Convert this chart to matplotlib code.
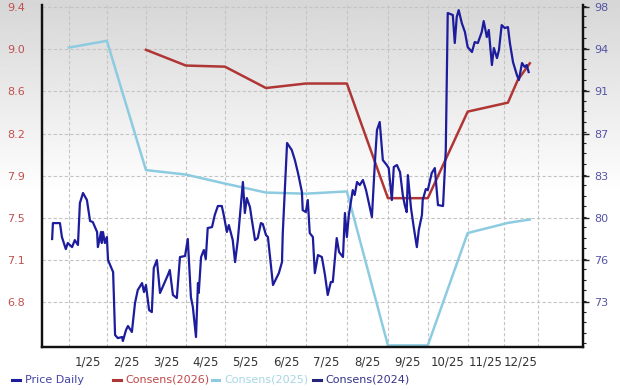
import matplotlib
matplotlib.use("Agg")
import matplotlib.pyplot as plt
import numpy as np
from matplotlib.lines import Line2D
from matplotlib.ticker import MultipleLocator

# x in months since start of Jan 2025
price_x = [-0.43, -0.41, -0.23, -0.18, -0.08, -0.03, 0.08, 0.15, 0.23, 0.28, 0.36, 0.46,
           0.54, 0.61, 0.72, 0.74, 0.82, 0.84, 0.87, 0.92, 0.97, 1.00, 1.13, 1.18,
           1.25, 1.36, 1.38, 1.46, 1.51, 1.61, 1.69, 1.76, 1.87, 1.92, 1.97, 2.05,
           2.12, 2.17, 2.25, 2.33, 2.53, 2.58, 2.66, 2.76, 2.84, 2.97, 3.04, 3.12,
           3.17, 3.25, 3.30, 3.32, 3.38, 3.45, 3.50, 3.55, 3.66, 3.73, 3.81, 3.91,
           3.96, 4.04, 4.09, 4.17, 4.19, 4.25, 4.32, 4.45, 4.50, 4.55, 4.63, 4.68,
           4.76, 4.83, 4.91, 4.96, 5.04, 5.09, 5.22, 5.32, 5.37, 5.45, 5.47, 5.58,
           5.70, 5.78, 5.86, 5.96, 5.98, 6.06, 6.11, 6.16, 6.24, 6.29, 6.37, 6.47,
           6.55, 6.62, 6.70, 6.75, 6.85, 6.91, 7.01, 7.06, 7.11, 7.16, 7.26, 7.31,
           7.37, 7.44, 7.52, 7.60, 7.75, 7.83, 7.88, 7.95, 8.03, 8.13, 8.18, 8.26,
           8.31, 8.39, 8.47, 8.54, 8.59, 8.64, 8.67, 8.75, 8.82, 8.90, 8.95, 9.03,
           9.05, 9.13, 9.18, 9.28, 9.36, 9.44, 9.57, 9.64, 9.69, 9.82, 9.87, 9.92,
           9.97, 10.05, 10.13, 10.20, 10.31, 10.38, 10.46, 10.56, 10.61, 10.69, 10.74, 10.82,
           10.87, 10.95, 11.00, 11.07, 11.15, 11.23, 11.28, 11.36, 11.46, 11.51, 11.59, 11.66,
           11.71, 11.76]
price = [78.19, 79.55, 79.55, 78.36, 77.33, 77.85, 77.50, 78.10, 77.68, 81.26, 82.12, 81.52,
         79.73, 79.64, 78.79, 77.50, 78.79, 77.85, 78.79, 77.85, 78.36, 76.39, 75.37, 69.99,
         69.73, 69.82, 69.48, 70.42, 70.76, 70.25, 72.72, 73.83, 74.43, 73.66, 74.26, 72.12,
         71.95, 75.71, 76.39, 73.58, 75.11, 75.54, 73.41, 73.15, 76.65, 76.74, 78.19, 73.23,
         72.38, 69.82, 74.43, 73.58, 76.65, 77.25, 76.48, 79.13, 79.21, 80.24, 81.01, 81.01,
         80.24, 78.79, 79.38, 78.36, 78.10, 76.22, 78.10, 83.06, 80.41, 81.69, 80.92, 79.81,
         78.10, 78.27, 79.55, 79.47, 78.53, 78.36, 74.26, 74.94, 75.28, 76.22, 78.70, 86.39,
         85.79, 84.93, 83.82, 82.20, 80.66, 80.49, 81.52, 78.70, 78.36, 75.28, 76.82, 76.65,
         75.11, 73.41, 74.52, 74.52, 78.27, 77.08, 76.65, 80.41, 78.36, 80.24, 82.37, 81.95,
         83.06, 82.80, 83.23, 82.37, 80.07, 84.93, 87.50, 88.18, 84.93, 84.51, 84.25, 81.52,
         84.34, 84.51, 83.90, 81.95, 81.09, 80.49, 83.65, 80.84, 79.21, 77.50, 78.96, 80.24,
         81.52, 82.46, 82.37, 83.82, 84.25, 81.09, 81.01, 85.79, 97.49, 97.32, 94.93, 97.15,
         97.74, 96.63, 95.87, 94.58, 94.16, 95.01, 94.93, 95.87, 96.80, 95.44, 96.04, 93.05,
         94.50, 93.64, 94.33, 96.46, 96.21, 96.29, 94.93, 93.30, 92.19, 91.77, 93.22, 92.88,
         93.05, 92.45]

cons2026_x = [1.97, 2.99, 3.99, 5.04, 6.06, 7.11, 8.16, 9.18, 10.20, 11.23, 11.48, 11.79]
cons2026 = [9.02, 8.88, 8.87, 8.68, 8.72, 8.72, 7.70, 7.70, 8.47, 8.55, 8.75, 8.90]

cons2025_x = [0.00, 0.97, 1.97, 2.99, 3.99, 5.04, 6.06, 7.11, 8.16, 9.18, 10.20, 11.23, 11.79]
cons2025 = [9.04, 9.10, 7.95, 7.91, 7.83, 7.75, 7.74, 7.76, 6.39, 6.39, 7.39, 7.48, 7.51]

month_labels = ['1/25', '2/25', '3/25', '4/25', '5/25', '6/25', '7/25', '8/25',
                '9/25', '10/25', '11/25', '12/25']
left_tick_labels = ['9.4', '9.0', '8.6', '8.2', '7.9', '7.5', '7.1', '6.8']
right_tick_labels = ['98', '94', '91', '87', '83', '80', '76', '73']

legend_names = ['Price Daily', 'Consens(2026)', 'Consens(2025)', 'Consens(2024)']
legend_line_colors = ['#1c1c9c', '#b03636', '#8ccbe0', '#24247a']
legend_text_colors = ['#4444a4', '#c04848', '#a6d6e6', '#34348a']

fig = plt.figure(figsize=(6.2, 3.9), dpi=100)
fig.patch.set_facecolor('white')

# gray-to-white gradient background
bg = fig.add_axes([0, 0, 1, 1], zorder=-10)
grad = np.ones((200, 1))
top_part = np.linspace(0.84, 1.0, 100)
grad[:100, 0] = top_part
bg.imshow(grad, aspect='auto', cmap='gray', vmin=0, vmax=1, extent=[0, 1, 0, 1])
bg.axis('off')

ax = fig.add_axes([0.0677, 0.110, 0.8726, 0.877])
ax.patch.set_visible(False)
ax2 = ax.twinx()
ax2.patch.set_visible(False)

ax.plot(cons2025_x, cons2025, color='#8ccbe0', lw=1.8, zorder=2)
ax.plot(cons2026_x, cons2026, color='#b03636', lw=1.8, zorder=3)
ax2.plot(price_x, price, color='#1c1c9c', lw=1.6, zorder=4)

ax.set_xlim(-0.69, 13.15)
ax.set_ylim(6.375, 9.418)
ax2.set_ylim(68.96, 98.17)

grid_x = [0, 0.97, 1.97, 2.99, 3.99, 5.04, 6.06, 7.11, 8.16, 9.18, 10.20, 11.13, 12.0]
ax.set_xticks(grid_x)
ax.set_xticklabels([])
ax.set_xticks([(grid_x[i] + grid_x[i + 1]) / 2 for i in range(12)], minor=True)
ax.set_xticklabels(month_labels, minor=True)
ax.tick_params(axis='x', which='both', length=0, pad=6, labelsize=8.5, labelcolor='#333333')

left_ticks = [9.4, 9.025, 8.65, 8.275, 7.9, 7.525, 7.15, 6.775]
ax.set_yticks(left_ticks)
ax.set_yticklabels(left_tick_labels)
ax.tick_params(axis='y', length=0, pad=12, labelsize=8, labelcolor='#c05050')

right_ticks = [98, 94.4, 90.8, 87.2, 83.6, 80.0, 76.4, 72.8]
ax2.set_yticks(right_ticks)
ax2.set_yticklabels(right_tick_labels)
ax2.yaxis.set_minor_locator(MultipleLocator(0.9))
ax2.tick_params(axis='y', which='major', length=4, width=1, pad=4, labelsize=8,
                labelcolor='#5555a5', color='#222222')
ax2.tick_params(axis='y', which='minor', length=2.5, width=0.8, color='#222222')

ax.grid(True, which='major', color='#c4c4c4', lw=0.8, ls=(0, (3, 2)))
ax.set_axisbelow(True)

for a in (ax, ax2):
    a.spines['top'].set_visible(False)
    for s in ('left', 'right', 'bottom'):
        a.spines[s].set_color('#111111')
        a.spines[s].set_linewidth(1.6)

# legend row along the bottom
leg_x = [0.026, 0.189, 0.348, 0.511]
for x0, name, lc, tc in zip(leg_x, legend_names, legend_line_colors, legend_text_colors):
    fig.add_artist(Line2D([x0 - 0.006, x0 + 0.006], [0.026, 0.026],
                          transform=fig.transFigure, color=lc, lw=2.2))
    fig.text(x0 + 0.014, 0.026, name, color=tc, fontsize=8, va='center', ha='left')

fig.savefig('out.png', dpi=100)
